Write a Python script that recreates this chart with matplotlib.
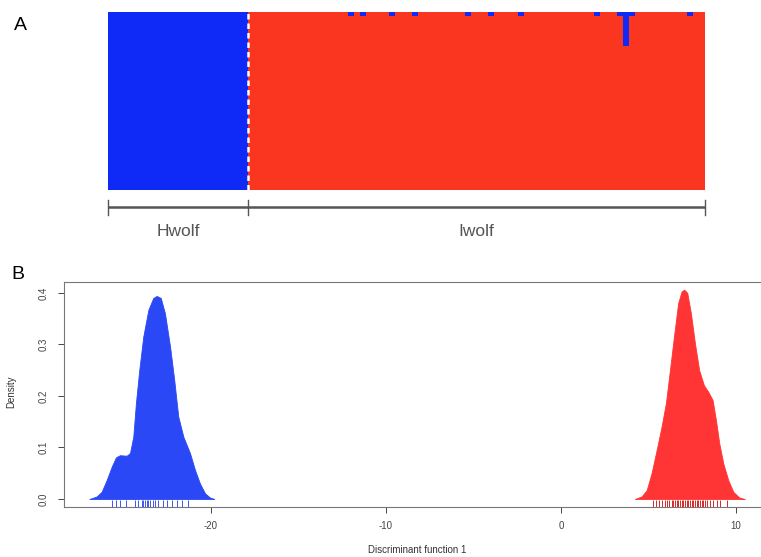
import matplotlib
matplotlib.use("Agg")
import matplotlib.pyplot as plt
import numpy as np

plt.rcParams['font.family'] = ['Liberation Sans', 'DejaVu Sans']

# ---------------- Data ----------------
# Panel A: membership probabilities (fraction assigned to blue cluster)
group_names = ["Hwolf", "Iwolf"]
n_hwolf = 24
n_iwolf = 78
hwolf_blue = [1.0] * n_hwolf
iwolf_blue_idx = [17, 19, 24, 28, 37, 41, 46, 59, 63, 64, 65, 75]
iwolf_blue_val = [0.02, 0.02, 0.02, 0.02, 0.02, 0.02, 0.02, 0.02, 0.025, 0.19, 0.02, 0.02]

# Panel B: density curves
blue_x = [-26.95, -26.53, -26.25, -25.96, -25.67, -25.43, -25.20, -24.82, -24.63,
          -24.44, -24.29, -24.10, -23.87, -23.58, -23.30, -23.10, -22.87, -22.63,
          -22.34, -22.10, -21.87, -21.58, -21.20, -20.91, -20.63, -20.34, -20.06, -19.81]
blue_d = [0.0, 0.005, 0.014, 0.037, 0.063, 0.081, 0.085, 0.084, 0.089,
          0.121, 0.186, 0.250, 0.315, 0.367, 0.390, 0.394, 0.390, 0.360,
          0.296, 0.231, 0.160, 0.121, 0.089, 0.056, 0.030, 0.011, 0.003, 0.0]
red_x = [4.23, 4.61, 4.90, 5.18, 5.47, 5.75, 6.00, 6.23, 6.46, 6.70, 6.90, 7.05,
         7.22, 7.43, 7.66, 7.90, 8.17, 8.42, 8.67, 8.86, 9.05, 9.28, 9.56, 9.85,
         10.19, 10.51]
red_d = [0.0, 0.005, 0.017, 0.050, 0.095, 0.140, 0.186, 0.250, 0.315, 0.380, 0.403, 0.406,
         0.400, 0.360, 0.302, 0.250, 0.221, 0.208, 0.192, 0.153, 0.108, 0.069, 0.037, 0.014,
         0.003, 0.0]
blue_rug = [-25.67, -25.43, -25.20, -24.86, -24.34, -24.17, -23.96, -23.89, -23.77, -23.67,
            -23.60, -23.49, -23.33, -23.20, -23.03, -22.74, -22.51, -22.23, -21.94, -21.66, -21.31]
red_rug = [5.27, 5.43, 5.62, 5.75, 5.94, 6.07, 6.19, 6.33, 6.42, 6.51, 6.61, 6.70, 6.80, 6.90,
           6.99, 7.09, 7.18, 7.27, 7.37, 7.47, 7.56, 7.66, 7.75, 7.85, 7.94, 8.04, 8.13, 8.23,
           8.33, 8.51, 8.70, 8.90, 9.09, 9.47]
x_ticks = [-20, -10, 0, 10]
y_ticks = [0.0, 0.1, 0.2, 0.3, 0.4]

# ---------------- Colors ----------------
bar_blue = "#0F2AF7"
bar_red = "#FA3620"
dens_blue = "#2A48F5"
dens_red = "#FF3434"

W, H = 761, 557
fig = plt.figure(figsize=(W / 100, H / 100), dpi=100)

def fx(px):
    return px / W

def fy(py):
    return 1 - py / H

# ---------------- Panel A ----------------
axA = fig.add_axes([fx(108), fy(190), fx(705) - fx(108), fy(12) - fy(190)])
blue_frac = list(hwolf_blue) + [0.0] * n_iwolf
for i, v in zip(iwolf_blue_idx, iwolf_blue_val):
    blue_frac[n_hwolf + i] = v
blue_frac = np.array(blue_frac)
n_tot = len(blue_frac)
red_h = 1 - blue_frac
edges = np.arange(n_tot + 1)
red_step = np.append(red_h, red_h[-1])
# stacked membership bars: blue (top share) under, red (bottom share) drawn as one step polygon
axA.fill_between(edges, 0, np.ones_like(red_step), step='post', color=bar_blue, linewidth=0)
axA.fill_between(edges, 0, red_step, step='post', color=bar_red, linewidth=0)
axA.vlines(n_hwolf, 0, 1, colors='white', linestyles=(0, (2.2, 1.6)), linewidth=1.8)
axA.set_xlim(0, n_tot)
axA.set_ylim(0, 1)
axA.axis('off')

# group bracket
gcol = "#555555"
ybr = -0.095
axA.plot([0, n_tot], [ybr, ybr], color=gcol, lw=1.8, clip_on=False, solid_capstyle='butt')
for xb in [0, n_hwolf, n_tot]:
    axA.plot([xb, xb], [-0.055, -0.14], color=gcol, lw=1.0, clip_on=False)
axA.text(n_hwolf / 2, -0.235, group_names[0], ha='center', va='center',
         fontsize=12.5, color=gcol)
axA.text(n_hwolf + n_iwolf / 2, -0.235, group_names[1], ha='center', va='center',
         fontsize=12.5, color=gcol)

fig.text(fx(20), fy(25), "A", fontsize=14, ha='center', va='center', color='black')
fig.text(fx(18), fy(275), "B", fontsize=14, ha='center', va='center', color='black')

# ---------------- Panel B ----------------
left_px, right_px, top_px, bot_px = 64, 770, 282, 507
axB = fig.add_axes([fx(left_px), fy(bot_px), fx(right_px) - fx(left_px), fy(top_px) - fy(bot_px)])
axB.fill_between(blue_x, blue_d, 0, color=dens_blue, linewidth=0.6, edgecolor=dens_blue)
axB.fill_between(red_x, red_d, 0, color=dens_red, linewidth=0.6, edgecolor=dens_red)
tr = axB.get_xaxis_transform()
axB.vlines(blue_rug, 0, 0.03, transform=tr, colors="#3A58F0", linewidth=0.7)
axB.vlines(red_rug, 0, 0.03, transform=tr, colors="#D82828", linewidth=0.7)

axB.set_xlim(-28.4, 11.95)
axB.set_ylim(-0.0155, 0.421)
axB.set_xticks(x_ticks)
axB.set_xticklabels([str(t) for t in x_ticks])
axB.set_yticks(y_ticks)
axB.set_yticklabels([f"{t:.1f}" for t in y_ticks], rotation=90, va='center')
axB.tick_params(axis='both', labelsize=7, colors='#444444', length=4, width=0.7,
                direction='out')
axB.tick_params(axis='x', pad=6)
axB.tick_params(axis='y', pad=7)
for s in axB.spines.values():
    s.set_color('#777777')
    s.set_linewidth(0.8)

fig.text(fx(11), fy(392), "Density", rotation=90, fontsize=7, ha='center', va='center',
         color='#333333')
fig.text(fx(417), fy(550), "Discriminant function 1", fontsize=7, ha='center', va='center',
         color='#333333')

fig.savefig("out.png", dpi=100)
